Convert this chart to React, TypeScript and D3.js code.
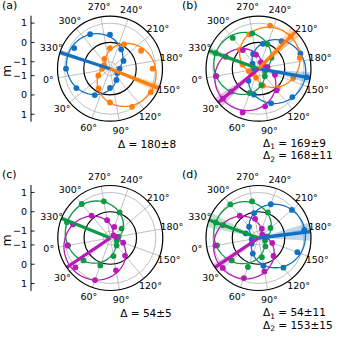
import React from 'react'
import * as d3 from 'd3'

// angles (deg) at which m was measured
const angA = [20, 50, 80, 110, 140, 170, 200, 230, 260, 290, 320, 350]
const ang30 = [0, 30, 60, 90, 120, 150, 180, 210, 240, 270, 300, 330]
const angB1 = [10, 40, 70, 100, 130, 160, 190, 220, 250, 280, 310, 340]
const angB2 = [5, 35, 65, 95, 125, 155, 185, 215, 245, 275, 305, 335]

// (a)
const aBlue = [0.65, 0.22, -0.36, -0.69, -0.92, -0.86, -0.55, -0.2, 0.4, 0.7, 0.78, 0.92]
const aOrange = [-0.66, -0.18, 0.39, 0.92, 1.08, 0.85, 0.5, 0.1, -0.3, -0.78, -1.0, -0.95]
// (b)
const bBlue = [-0.95, -0.55, 0.0, 0.55, 0.93, 1.18, 0.95, 0.5, -0.05, -0.55, -0.95, -1.1]
const bOrange = [-0.85, -0.98, -0.88, -0.45, 0.05, 0.5, 0.85, 1.0, 0.95, 0.48, 0.02, -0.5]
const bGreen = [0.85, 0.48, -0.02, -0.5, -0.85, -1.0, -0.88, -0.48, 0.0, 0.5, 0.72, 1.0]
const bMagenta = [0.88, 1.05, 1.05, 0.62, 0.1, -0.45, -0.9, -1.05, -1.0, -0.62, -0.1, 0.45]
// (c)
const cGreen = [0.87, 0.45, 0.15, -0.41, -0.85, -1.0, -0.92, -0.6, 0.05, 0.57, 0.94, 1.03]
const cMagenta = [0.88, 1.0, 0.96, 0.34, -0.17, -0.65, -1.05, -1.15, -0.75, -0.42, 0.15, 0.7]
// (d)
const dBlue = [-1.0, -0.9, -0.5, 0.1, 0.65, 0.78, 1.05, 0.9, 0.5, -0.05, -0.6, -0.66]
const dGreen = [0.82, 0.45, 0.24, -0.35, -0.8, -1.0, -0.9, -0.55, 0.05, 0.57, 0.91, 1.0]
const dMagenta = [0.9, 1.05, 0.85, 0.4, -0.15, -0.6, -1.0, -1.1, -0.85, -0.35, 0.15, 0.6]

// fitted direction, amplitude and error of each series
const dirA = [332, 148]
const ampA = [0.93, 1.08]
const errA = [3, 5]
const dirB = [160, 215, 330, 30]
const ampB = [1.1, 1.0, 1.0, 1.08]
const errB = [6, 7, 4, 6]
const dirC = [328, 24]
const ampC = [1.02, 1.18]
const errC = [1.5, 1.5]
const dirD = [177, 330, 24]
const ampD = [1.08, 1.0, 1.1]
const errD = [10, 8, 4]

const thetaTicks = [0, 30, 60, 90, 120, 150, 180, 210, 240, 270, 300, 330]
const mTicks = [1, 0, -1]

const BLUE = '#1170c4'
const ORANGE = '#ff7f0e'
const GREEN = '#0c9a46'
const MAGENTA = '#b81ab8'

const R = 52.5
const rScale = d3.scaleLinear().domain([-1.36, 1.36]).range([0, R])
const xy = (theta: number, r: number) => {
  const phi = ((190 + theta) * Math.PI) / 180
  return [r * Math.cos(phi), -r * Math.sin(phi)]
}

type Series = { ang: number[]; m: number[]; dir: number; amp: number; err: number; color: string }

const curveAngles = d3.range(0, 360, 3)

function Panel({ cx, cy, series, axis }: { cx: number; cy: number; series: Series[]; axis: boolean }) {
  const arc = d3.arc<any>()
  return (
    <g>
      {axis && (
        <g transform={`translate(31,${cy})`}>
          <line y1={-R - 0.5} y2={R + 0.5} stroke="black" strokeWidth={1} />
          {[-1, 1].map((s) =>
            mTicks.map((m) => {
              const y = s * rScale(m)
              return (
                <g key={s + '_' + m} transform={`translate(0,${y})`}>
                  <line x2={3.5} stroke="black" strokeWidth={0.9} />
                  <text x={-4} dy="0.35em" fontSize={9.5} textAnchor="end">
                    {m < 0 ? '\u2212' + Math.abs(m) : m}
                  </text>
                </g>
              )
            })
          )}
        </g>
      )}
      <g transform={`translate(${cx},${cy})`}>
        {/* grid */}
        {[-1, 1].map((m) => (
          <circle key={m} r={rScale(m)} fill="none" stroke="#b0b0b0" strokeWidth={0.8} />
        ))}
        {thetaTicks.map((t) => {
          const [x, y] = xy(t, R)
          return <line key={t} x1={0} y1={0} x2={x} y2={y} stroke="#b0b0b0" strokeWidth={0.8} />
        })}
        <circle r={rScale(0)} fill="none" stroke="black" strokeWidth={1.2} />
        {thetaTicks.map((t) => {
          const [x, y] = xy(t, R + 10)
          return (
            <text key={t} x={x} y={y} dy="0.35em" fontSize={9.5} textAnchor="middle">
              {t + '\u00b0'}
            </text>
          )
        })}
        {/* fitted curves */}
        {series.map((s, i) => {
          const pts = curveAngles.map((t) => xy(t, rScale(s.amp * Math.cos(((t - s.dir) * Math.PI) / 180))))
          const path = d3.line().curve(d3.curveLinearClosed)(pts as [number, number][])
          return <path key={i} d={path || ''} fill="none" stroke={s.color} strokeWidth={1.3} />
        })}
        {/* points */}
        {series.map((s, i) =>
          s.ang.map((t, j) => {
            const [x, y] = xy(t, rScale(s.m[j]))
            return <circle key={i + '_' + j} cx={x} cy={y} r={2.9} fill={s.color} />
          })
        )}
        {/* error wedges + direction */}
        {series.map((s, i) => {
          const a = -100 - s.dir
          const w = arc({
            innerRadius: 0,
            outerRadius: R,
            startAngle: ((a - s.err) * Math.PI) / 180,
            endAngle: ((a + s.err) * Math.PI) / 180,
          })
          const [x, y] = xy(s.dir, R)
          return (
            <g key={i}>
              <path d={w || ''} fill={s.color} opacity={0.28} />
              <line x1={0} y1={0} x2={x} y2={y} stroke={s.color} strokeWidth={3.3} />
            </g>
          )
        })}
        <circle r={R} fill="none" stroke="black" strokeWidth={1.2} />
      </g>
    </g>
  )
}

const mk = (ang: number[][], ms: number[][], dir: number[], amp: number[], err: number[], colors: string[]): Series[] =>
  ms.map((m, i) => ({ ang: ang[i], m, dir: dir[i], amp: amp[i], err: err[i], color: colors[i] }))

export default function App() {
  const sa = mk([angA, angA], [aBlue, aOrange], dirA, ampA, errA, [BLUE, ORANGE])
  const sb = mk([angB1, angB2, ang30, ang30], [bBlue, bOrange, bGreen, bMagenta], dirB, ampB, errB, [BLUE, ORANGE, GREEN, MAGENTA])
  const sc = mk([ang30, ang30], [cGreen, cMagenta], dirC, ampC, errC, [GREEN, MAGENTA])
  const sd = mk([ang30, ang30, ang30], [dBlue, dGreen, dMagenta], dirD, ampD, errD, [BLUE, GREEN, MAGENTA])
  const sub = (n: string) => (
    <tspan fontSize={7.5} dy={2.5}>
      {n}
    </tspan>
  )
  return (
    <svg
      width={338}
      height={339}
      style={{ position: 'absolute', left: 0, top: 0, background: 'white' }}
      fontFamily="DejaVu Sans"
    >
      <Panel cx={110} cy={68.7} series={sa} axis={true} />
      <Panel cx={258.5} cy={68.7} series={sb} axis={false} />
      <Panel cx={110.3} cy={238} series={sc} axis={true} />
      <Panel cx={258.5} cy={238} series={sd} axis={false} />

      <text x={2} y={9} fontSize={11}>(a)</text>
      <text x={182} y={9} fontSize={11}>(b)</text>
      <text x={2} y={177.5} fontSize={11}>(c)</text>
      <text x={182} y={177.5} fontSize={11}>(d)</text>

      <text transform="translate(11,71) rotate(-90)" fontSize={12.5} textAnchor="middle">m</text>
      <text transform="translate(11,240.3) rotate(-90)" fontSize={12.5} textAnchor="middle">m</text>

      <text x={147} y={147.5} fontSize={10.5} textAnchor="middle">{'\u0394 = 180\u00b18'}</text>
      <text x={146} y={316.5} fontSize={10.5} textAnchor="middle">{'\u0394 = 54\u00b15'}</text>

      <text x={263} y={146.5} fontSize={10.5}>
        {'\u0394'}{sub('1')}<tspan dy={-2.5}>{' = 169\u00b19'}</tspan>
      </text>
      <text x={263} y={159} fontSize={10.5}>
        {'\u0394'}{sub('2')}<tspan dy={-2.5}>{' = 168\u00b111'}</tspan>
      </text>
      <text x={263} y={316} fontSize={10.5}>
        {'\u0394'}{sub('1')}<tspan dy={-2.5}>{' = 54\u00b111'}</tspan>
      </text>
      <text x={263} y={328.5} fontSize={10.5}>
        {'\u0394'}{sub('2')}<tspan dy={-2.5}>{' = 153\u00b115'}</tspan>
      </text>
    </svg>
  )
}
